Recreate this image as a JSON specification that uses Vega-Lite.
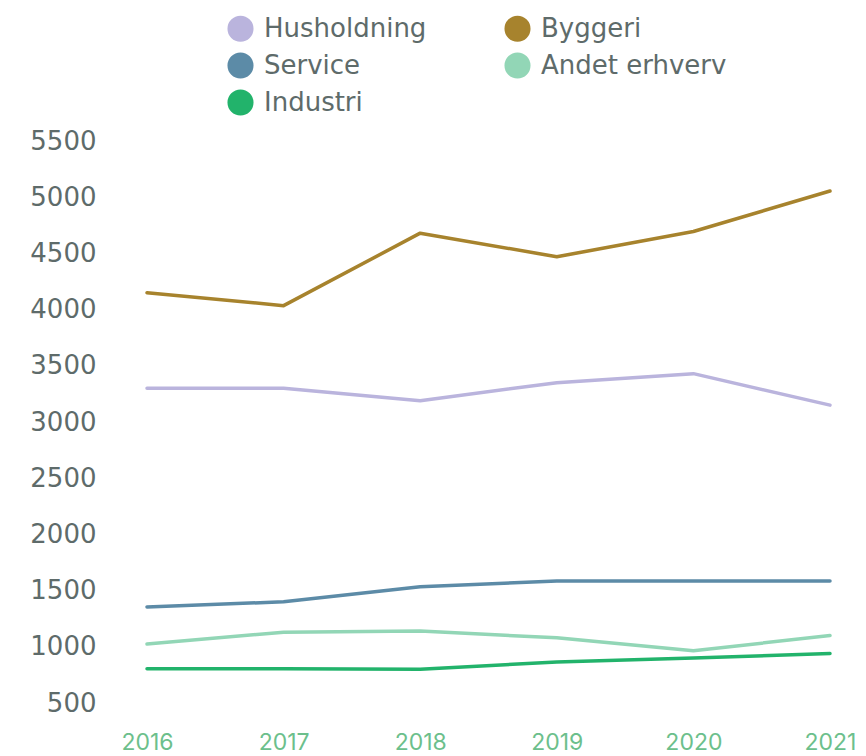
{
  "$schema": "https://vega.github.io/schema/vega-lite/v6.json",
  "width": 683,
  "height": 562,
  "autosize": "none",
  "padding": {"left": 147, "top": 141, "right": 36, "bottom": 53},
  "background": "white",
  "config": {"view": {"stroke": null}, "font": "DejaVu Sans"},
  "data": {
    "values": [
      {"year": "2016", "sector": "Husholdning", "value": 3300},
      {"year": "2017", "sector": "Husholdning", "value": 3300},
      {"year": "2018", "sector": "Husholdning", "value": 3190},
      {"year": "2019", "sector": "Husholdning", "value": 3350},
      {"year": "2020", "sector": "Husholdning", "value": 3430},
      {"year": "2021", "sector": "Husholdning", "value": 3150},
      {"year": "2016", "sector": "Byggeri", "value": 4150},
      {"year": "2017", "sector": "Byggeri", "value": 4035},
      {"year": "2018", "sector": "Byggeri", "value": 4680},
      {"year": "2019", "sector": "Byggeri", "value": 4470},
      {"year": "2020", "sector": "Byggeri", "value": 4695},
      {"year": "2021", "sector": "Byggeri", "value": 5055},
      {"year": "2016", "sector": "Service", "value": 1355},
      {"year": "2017", "sector": "Service", "value": 1400},
      {"year": "2018", "sector": "Service", "value": 1535},
      {"year": "2019", "sector": "Service", "value": 1585},
      {"year": "2020", "sector": "Service", "value": 1585},
      {"year": "2021", "sector": "Service", "value": 1585},
      {"year": "2016", "sector": "Andet erhverv", "value": 1025},
      {"year": "2017", "sector": "Andet erhverv", "value": 1130},
      {"year": "2018", "sector": "Andet erhverv", "value": 1140},
      {"year": "2019", "sector": "Andet erhverv", "value": 1080},
      {"year": "2020", "sector": "Andet erhverv", "value": 965},
      {"year": "2021", "sector": "Andet erhverv", "value": 1100},
      {"year": "2016", "sector": "Industri", "value": 805},
      {"year": "2017", "sector": "Industri", "value": 805},
      {"year": "2018", "sector": "Industri", "value": 800},
      {"year": "2019", "sector": "Industri", "value": 865},
      {"year": "2020", "sector": "Industri", "value": 900},
      {"year": "2021", "sector": "Industri", "value": 940}
    ]
  },
  "mark": {"type": "line", "strokeWidth": 3.5, "strokeCap": "round", "strokeJoin": "round"},
  "encoding": {
    "x": {
      "field": "year", "type": "ordinal",
      "scale": {"type": "point", "padding": 0},
      "axis": {"title": null, "labelAngle": 0, "domain": false, "ticks": false, "labelPadding": 28, "labelFontSize": 23, "labelColor": "#6cbf8c", "labelFont": "Inter", "labelBound": false, "labelOverlap": false}
    },
    "y": {
      "field": "value", "type": "quantitative",
      "scale": {"domain": [500, 5500], "nice": false, "zero": false},
      "axis": {"title": null, "format": "d", "values": [500, 1000, 1500, 2000, 2500, 3000, 3500, 4000, 4500, 5000, 5500], "domain": false, "ticks": false, "grid": false, "labelPadding": 51, "labelFontSize": 26, "labelColor": "#5e6b6a", "labelFont": "DejaVu Sans"}
    },
    "color": {
      "field": "sector", "type": "nominal",
      "scale": {
        "domain": ["Husholdning", "Byggeri", "Service", "Andet erhverv", "Industri"],
        "range": ["#bab4dd", "#a7832d", "#5c8ba7", "#92d6b6", "#22b36b"]
      },
      "legend": {
        "title": null, "orient": "none", "legendX": 80, "legendY": -126, "columns": 2, "direction": "horizontal",
        "symbolType": "circle", "symbolSize": 680, "symbolStrokeWidth": 0, "symbolOpacity": 1,
        "labelFontSize": 26, "labelColor": "#5e6b6a", "labelFont": "DejaVu Sans", "labelOffset": 10,
        "rowPadding": 10, "columnPadding": 77, "labelLimit": 400,
        "encode": {"symbols": {"update": {"fill": {"scale": "color", "field": "value"}, "strokeWidth": {"value": 0}}}}
      }
    }
  }
}
